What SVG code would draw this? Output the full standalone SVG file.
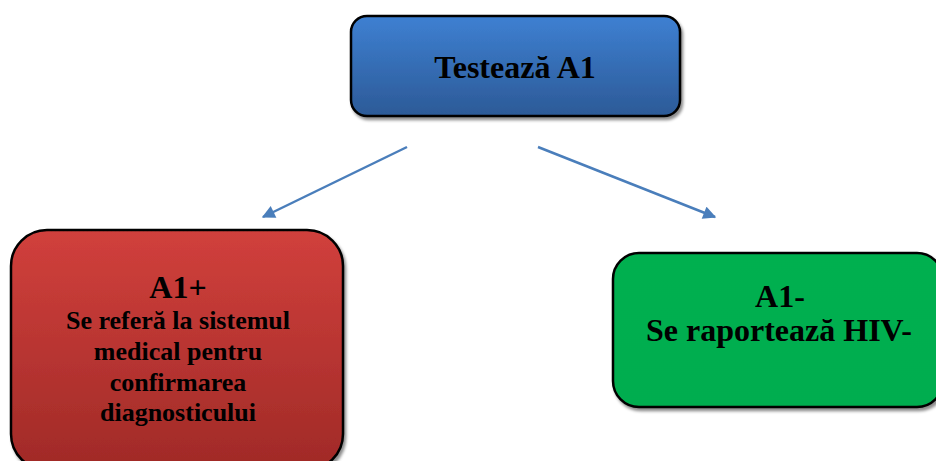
<svg xmlns="http://www.w3.org/2000/svg" width="936" height="461" viewBox="0 0 936 461">
<defs>
<linearGradient id="gBlue" x1="0" y1="0" x2="0" y2="1"><stop offset="0" stop-color="#3e80d2"/><stop offset="1" stop-color="#2c5a97"/></linearGradient>
<linearGradient id="gRed" x1="0" y1="0" x2="0" y2="1"><stop offset="0" stop-color="#d1403c"/><stop offset="1" stop-color="#a02a27"/></linearGradient>
<linearGradient id="gGreen" x1="0" y1="0" x2="0" y2="1"><stop offset="0" stop-color="#00b050"/><stop offset="1" stop-color="#00ad4f"/></linearGradient>
<filter id="sh" x="-5%" y="-5%" width="115%" height="120%"><feDropShadow dx="2" dy="3" stdDeviation="1.5" flood-color="#000" flood-opacity="0.45"/></filter>
<marker id="ah" viewBox="0 0 10 10" refX="9" refY="5" markerWidth="5.8" markerHeight="5.2" orient="auto" markerUnits="strokeWidth"><path d="M0,0 L10,5 L0,10 z" fill="#4a7ebb"/></marker>
<style>
.box{stroke:#000;stroke-width:2.5;filter:url(#sh)}
.t{font-family:"Liberation Serif","Times New Roman",serif;font-weight:bold;fill:#000;text-anchor:middle}
.c{stroke:#4a7ebb;stroke-width:2.5;fill:none;marker-end:url(#ah)}
</style>
</defs>
<g id="connectors">
<line class="c" x1="407" y1="147" x2="263" y2="217"/>
<line class="c" x1="538" y1="147" x2="715" y2="217"/>
</g>
<g id="node-test">
<rect class="box" x="351" y="16" width="329" height="100" rx="16" fill="url(#gBlue)"/>
<text class="t" x="515" y="78" font-size="32">Testează A1</text>
</g>
<g id="node-pos">
<rect class="box" x="11" y="230" width="332" height="240" rx="36" fill="url(#gRed)"/>
<text class="t" x="178" y="298" font-size="32">A1+</text>
<text class="t" x="178" y="329" font-size="26">Se referă la sistemul</text>
<text class="t" x="178" y="360" font-size="26">medical pentru</text>
<text class="t" x="178" y="391" font-size="26">confirmarea</text>
<text class="t" x="178" y="421" font-size="26">diagnosticului</text>
</g>
<g id="node-neg">
<rect class="box" x="613" y="253" width="330" height="154" rx="26" fill="url(#gGreen)"/>
<text class="t" x="780" y="307" font-size="32">A1-</text>
<text class="t" x="779" y="341" font-size="32">Se raportează HIV-</text>
</g>
</svg>
